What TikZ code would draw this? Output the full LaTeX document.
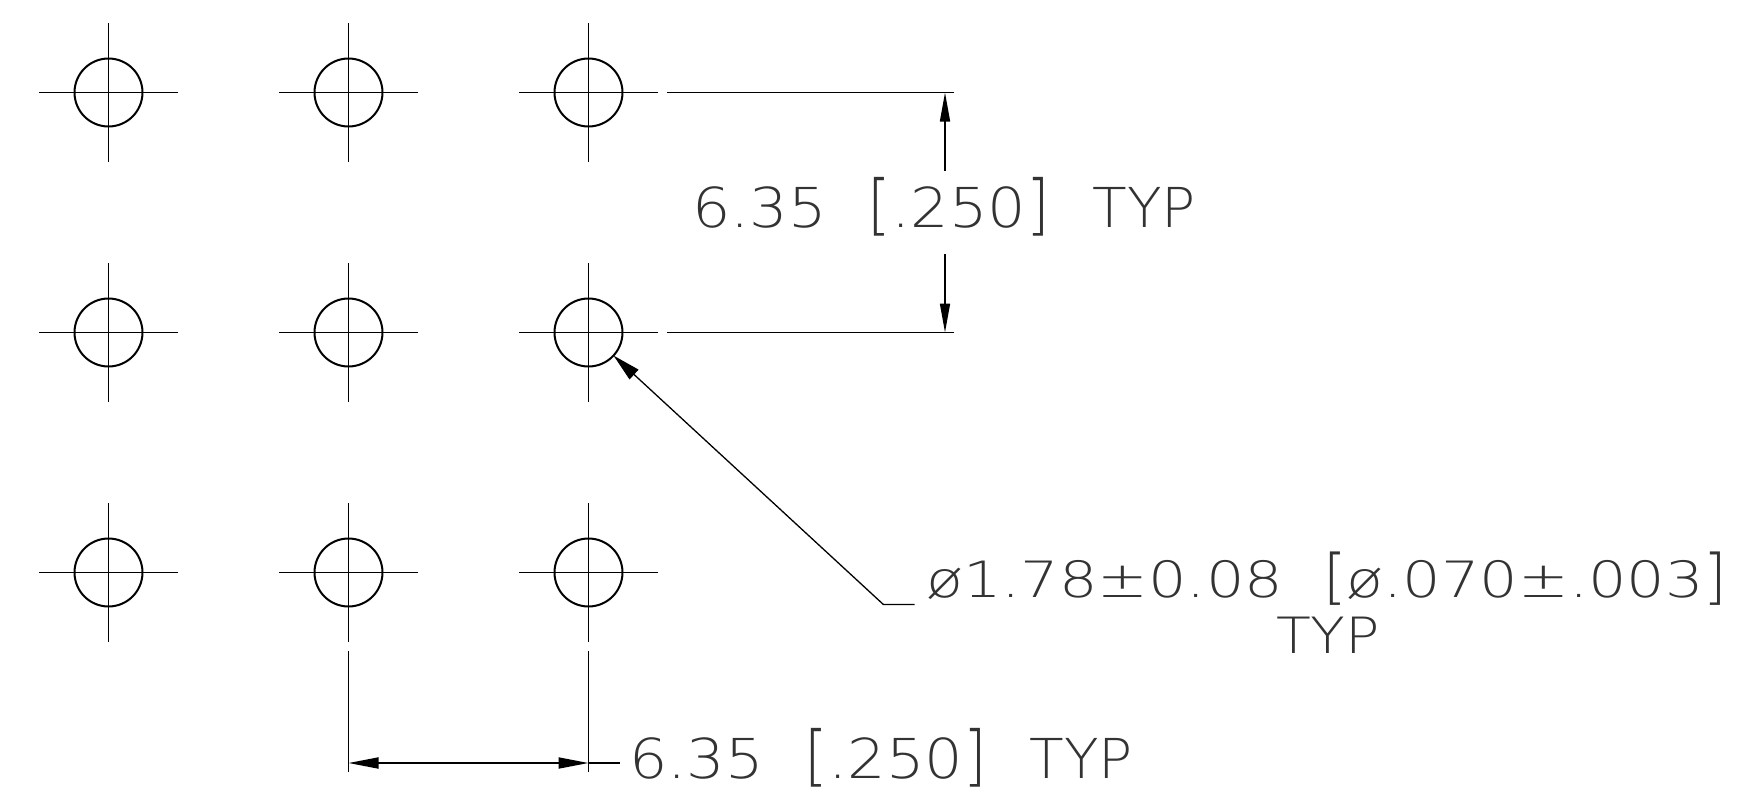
\documentclass[tikz,border=0pt]{standalone}
\usepackage{graphicx}
\usepackage{fontspec}
\usetikzlibrary{arrows.meta}
\newfontfamily\cadfonta[FakeStretch=1.1]{DejaVu Sans ExtraLight}
\newfontfamily\cadfontb[FakeStretch=1.21]{DejaVu Sans ExtraLight}
\newfontfamily\cadfontc[FakeStretch=1.14]{DejaVu Sans ExtraLight}
\newfontfamily\cadfontd[FakeStretch=1.03]{DejaVu Sans ExtraLight}
\newcommand\tallglyph[1]{\scalebox{1}[1.2]{#1}}
\tikzset{
  x=1pt,y=-1pt,
  hole/.style={circle,draw=black,line width=2pt,minimum size=68pt,inner sep=0pt,outer sep=0pt},
  centre/.style={line width=1.6pt,black},
  extline/.style={line width=1.5pt,black},
  dimline/.style={line width=1.5pt,black,-{Triangle[length=29pt,width=10pt]}},
  dimboth/.style={line width=1.8pt,black,{Triangle[length=30pt,width=11pt]}-{Triangle[length=30pt,width=11pt]}},
  leader/.style={line width=1.3pt,black,-{Triangle[length=28pt,width=13pt]}},
  cadtext/.style={inner sep=0pt,outer sep=0pt,anchor=base west,text=black!80},
  cadlarge/.style={cadtext,font=\cadfonta\fontsize{55}{55}\selectfont},
  cadsmall/.style={cadtext,font=\cadfontb\fontsize{50}{50}\selectfont},
  cadtyp/.style={cadtext,font=\cadfontc\fontsize{50}{50}\selectfont}
}
\begin{document}
\begin{tikzpicture}
\useasboundingbox (0,0) rectangle (1749,809);
\foreach \r/\yy in {1/92.5,2/332.5,3/572.5}{
  \foreach \c/\xx in {1/108.5,2/348.5,3/588.5}{
    \node[hole] (h\r\c) at (\xx,\yy) {};
    \draw[centre] (\xx-69.5,\yy) -- (\xx+69.5,\yy);
    \draw[centre] (\xx,\yy-69.5) -- (\xx,\yy+69.5);
  }
}
% vertical dimension
\coordinate (e1a) at (667,92.5);   \coordinate (e1b) at (953.7,92.5);
\coordinate (e2a) at (667,332.5);  \coordinate (e2b) at (953.7,332.5);
\draw[extline] (e1a) -- (e1b);
\draw[extline] (e2a) -- (e2b);
\coordinate (v1t) at (945,92.5);  \coordinate (v1s) at (945,171);
\coordinate (v2t) at (945,332.5); \coordinate (v2s) at (945,254);
\draw[dimline] (v1s) -- (v1t);
\draw[dimline] (v2s) -- (v2t);
\node[cadlarge] (t1) at (692,227.5) {6.35\hspace{41pt}\tallglyph{[}.250\tallglyph{]}\hspace{43pt}{\cadfontd TYP}};
% leader
\coordinate (l1) at (914.6,604.5); \coordinate (l2) at (883.4,604.5);
\draw[leader] (l1) -- (l2) -- (h23);
\node[cadsmall] (t2) at (926,597) {ø1.78±0.08\hspace{40pt}\tallglyph{[}ø.070±.003\tallglyph{]}};
\node[cadtyp] (t2b) at (1276,653.6) {TYP};
% horizontal dimension
\coordinate (x1a) at (348.5,651); \coordinate (x1b) at (348.5,772);
\coordinate (x2a) at (588.5,651); \coordinate (x2b) at (588.5,772);
\draw[extline] (x1a) -- (x1b);
\draw[extline] (x2a) -- (x2b);
\coordinate (da) at (348.5,763); \coordinate (db) at (588.5,763); \coordinate (dc) at (620,763);
\draw[dimboth] (da) -- (db);
\draw[extline] (db) -- (dc);
\node[cadlarge] (t3) at (629,778.5) {6.35\hspace{41pt}\tallglyph{[}.250\tallglyph{]}\hspace{43pt}{\cadfontd TYP}};
\end{tikzpicture}
\end{document}
